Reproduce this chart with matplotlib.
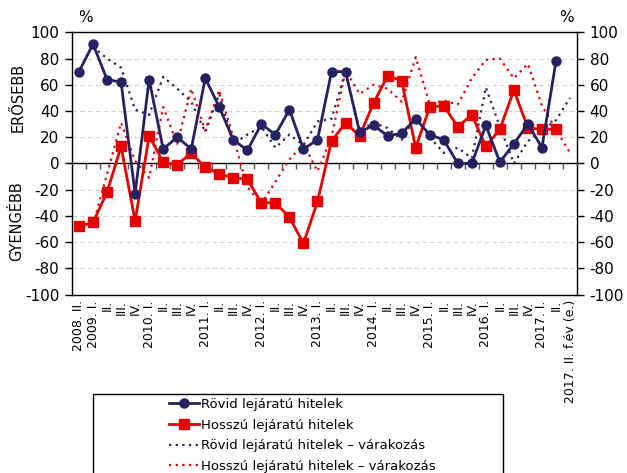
import numpy as np
import matplotlib
matplotlib.use("Agg")
import matplotlib.pyplot as plt
from matplotlib.patches import Rectangle

plt.rcParams['font.family'] = ['DejaVu Sans']
plt.rcParams['axes.unicode_minus'] = False

labels = ["2008. II.", "2009. I.", "II.", "III.", "IV.",
          "2010. I.", "II.", "III.", "IV.",
          "2011. I.", "II.", "III.", "IV.",
          "2012. I.", "II.", "III.", "IV.",
          "2013. I.", "II.", "III.", "IV.",
          "2014. I.", "II.", "III.", "IV.",
          "2015. I.", "II.", "III.", "IV.",
          "2016. I.", "II.", "III.", "IV.",
          "2017. I.", "II.", "2017. II. f.év (e.)"]

nan = np.nan
rovid = [70, 91, 64, 62, -23, 64, 11, 20, 11, 65, 43, 18, 10, 30, 22, 41, 11, 18,
         70, 70, 24, 29, 21, 23, 34, 22, 18, 0, 0, 29, 1, 15, 30, 12, 78, nan]
hosszu = [-48, -45, -22, 13, -44, 21, 1, -1, 8, -3, -8, -11, -12, -30, -30, -41, -61, -29,
          17, 31, 21, 46, 67, 63, 12, 43, 44, 28, 37, 13, 26, 56, 27, 26, 26, nan]
rovid_var = [nan, 89, 80, 73, 41, 37, 66, 57, 47, 24, 53, 15, 22, 28, 12, 22, 14, 32,
             34, 70, 25, 31, 27, 18, 36, 20, 8, 12, 4, 58, 28, 0, 17, 25, 33, 50]
hosszu_var = [nan, -47, -8, 31, 2, -11, 43, 15, 57, 25, 56, 20, -18, -31, -14, 3, 15, -6,
              20, 71, 53, 60, 57, 47, 81, 45, 48, 45, 65, 79, 80, 65, 76, 44, 26, 8]

navy = '#262262'
red = '#e60000'

fig = plt.figure(figsize=(6.27, 4.73), dpi=100)
ax = fig.add_axes([0.1148, 0.3772, 0.8055, 0.5545])

x = np.arange(len(labels))

# grid and zero line
for g in [-80, -60, -40, -20, 20, 40, 60, 80]:
    ax.axhline(g, color='#d4d4d4', lw=0.8, ls=(0, (4, 3)), zorder=0)
ax.axhline(0, color='black', lw=1.0, zorder=1)
ax.vlines(np.arange(1, len(labels)) - 0.5, -4, 0, color='#555555', lw=1.0, zorder=1)

l1, = ax.plot(x, rovid, color=navy, lw=2.0, marker='o', ms=6.5, zorder=4,
              label='Rövid lejáratú hitelek')
l2, = ax.plot(x, hosszu, color=red, lw=2.0, marker='s', ms=7.5, zorder=3,
              label='Hosszú lejáratú hitelek')
l3, = ax.plot(x, rovid_var, color=navy, lw=1.6, ls=(0, (1, 2)), zorder=2,
              label='Rövid lejáratú hitelek – várakozás')
l4, = ax.plot(x, hosszu_var, color=red, lw=1.6, ls=(0, (1, 2)), zorder=2,
              label='Hosszú lejáratú hitelek – várakozás')

ax.set_xlim(-0.5, len(labels) - 0.5)
ax.set_ylim(-100, 100)
ax.set_yticks(np.arange(-100, 101, 20))
ax.tick_params(axis='y', labelsize=11, length=5, width=1, direction='out',
               right=True, labelright=True, pad=4)
ax.set_xticks(x)
ax.set_xticklabels(labels, rotation=90, fontsize=9)
ax.tick_params(axis='x', length=0, pad=4)
for s in ax.spines.values():
    s.set_color('black')
    s.set_linewidth(1.0)

fig.text(0.136, 0.962, '%', fontsize=11, ha='center', va='center')
fig.text(0.903, 0.962, '%', fontsize=11, ha='center', va='center')
fig.text(0.029, 0.793, 'ERŐSEBB', fontsize=10.5, rotation=90, ha='center', va='center')
fig.text(0.027, 0.533, 'GYENGÉBB', fontsize=10.5, rotation=90, ha='center', va='center')

# legend box
fig.patches.append(Rectangle((0.148, -0.05), 0.654, 0.217, transform=fig.transFigure,
                             facecolor='white', edgecolor='black', lw=1.0, zorder=5))
leg = fig.legend(handles=[l1, l2, l3, l4], loc='upper center', bbox_to_anchor=(0.482, 0.178),
                 frameon=False, fontsize=9.5, numpoints=1, handlelength=2.3,
                 handletextpad=0.15, labelspacing=0.58, borderpad=0.2)
leg.set_zorder(6)

fig.savefig('out.png', dpi=100)
